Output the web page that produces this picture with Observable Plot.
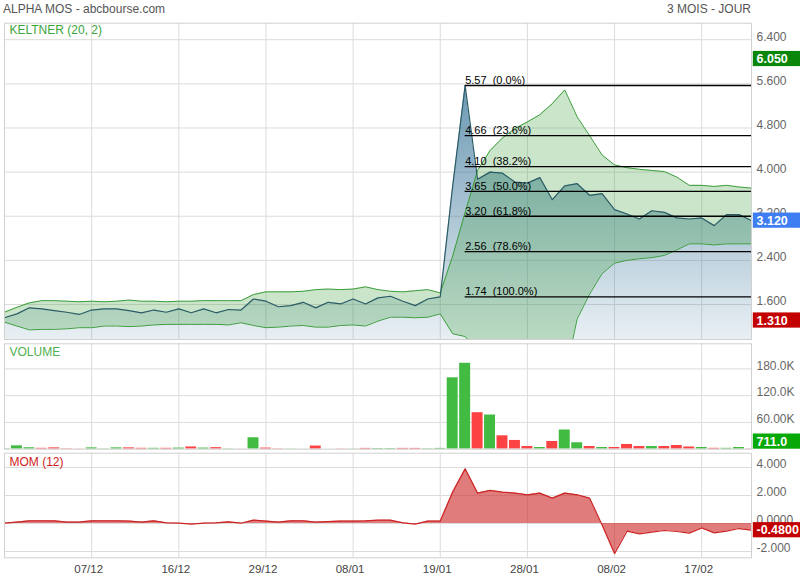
<!DOCTYPE html>
<html><head><meta charset="utf-8">
<script src="https://cdn.jsdelivr.net/npm/d3@7"></script>
<script src="https://cdn.jsdelivr.net/npm/@observablehq/plot@0.6"></script>
<style>
body{margin:0;background:#fff;font-family:"Liberation Sans",Arial,sans-serif;}
#wrap{position:relative;width:800px;height:580px;overflow:hidden;background:#fff;}
#wrap svg{position:absolute;left:0;}
.lbl{position:absolute;font-size:12px;white-space:pre;line-height:12px;color:#555;}
</style></head><body><div id="wrap"></div>
<script>
// ---------- data ----------
const titleText = "ALPHA MOS - abcbourse.com";
const periodText = "3 MOIS - JOUR";
const xTickIdx = [7, 14, 21, 28, 35, 42, 49, 56];
const xTickLabels = ["07/12", "16/12", "29/12", "08/01", "19/01", "28/01", "08/02", "17/02"];

const closeP = [1.36,1.43,1.54,1.52,1.49,1.46,1.42,1.50,1.52,1.52,
  1.49,1.45,1.50,1.46,1.52,1.45,1.52,1.45,1.51,1.50,
  1.70,1.66,1.56,1.58,1.64,1.54,1.64,1.61,1.70,1.61,
  1.72,1.75,1.66,1.58,1.70,1.74,3.75,5.57,3.87,4.00,
  3.98,3.82,3.80,3.90,3.50,3.75,3.79,3.58,3.61,3.32,
  3.24,3.15,3.30,3.27,3.17,3.15,3.17,3.03,3.23,3.23,3.12];
const upperBand = [1.46,1.55,1.63,1.67,1.67,1.66,1.65,1.66,1.65,1.66,
  1.68,1.66,1.66,1.65,1.66,1.66,1.67,1.67,1.67,1.67,
  1.78,1.83,1.83,1.83,1.84,1.87,1.88,1.87,1.88,1.92,
  1.87,1.84,1.83,1.85,1.87,1.81,2.48,3.27,4.03,4.39,
  4.62,4.79,4.91,5.04,5.24,5.49,5.00,4.66,4.31,4.13,
  4.08,4.05,4.03,4.01,3.91,3.76,3.76,3.74,3.76,3.73,3.71];
const lowerBand = [1.28,1.21,1.14,1.15,1.15,1.16,1.18,1.18,1.21,1.21,
  1.20,1.21,1.23,1.24,1.24,1.24,1.24,1.24,1.23,1.27,
  1.22,1.18,1.19,1.21,1.22,1.19,1.19,1.22,1.23,1.21,
  1.30,1.37,1.37,1.36,1.37,1.43,1.07,1.02,0.75,0.50,
  0.35,0.25,0.20,0.20,0.22,0.30,1.34,1.79,2.16,2.35,
  2.40,2.43,2.45,2.49,2.59,2.70,2.70,2.68,2.70,2.70,2.70];
const volume = [1000,7500,3200,2000,3000,1000,500,3000,800,3000,
  3000,2000,2000,2000,2500,5000,2500,3500,800,300,
  25600,2500,800,600,300,7000,200,600,600,1800,
  1500,1500,1800,1800,1000,1800,160000,192600,81800,76600,
  30000,19600,6000,3800,17300,43000,14400,6000,3800,3800,
  10600,6000,6000,6000,8300,5000,3800,2000,2000,3800,711];
const momentum = [0.02,0.10,0.19,0.19,0.19,0.10,0.10,0.19,0.19,0.19,
  0.17,0.10,0.19,0.05,0.02,-0.05,0.02,0.05,0.12,0.02,
  0.24,0.17,0.10,0.19,0.19,0.10,0.14,0.17,0.17,0.19,
  0.24,0.24,0.05,-0.05,0.17,0.17,2.25,3.90,2.17,2.36,
  2.24,2.17,2.05,2.17,1.81,2.17,2.05,1.81,-0.10,-2.15,
  -0.55,-0.74,-0.62,-0.50,-0.57,-0.69,-0.31,-0.67,-0.55,-0.36,-0.48];

const fibValues = [5.57, 4.66, 4.10, 3.65, 3.20, 2.56, 1.74];
const fibPercents = ["0.0%", "23.6%", "38.2%", "50.0%", "61.8%", "78.6%", "100.0%"];

const priceTicks = [6.4, 5.6, 4.8, 4.0, 3.2, 2.4, 1.6];
const volTicks = [60000, 120000, 180000];
const volTickLabels = ["60.00K", "120.0K", "180.0K"];
const momTicks = [4, 2, 0, -2];
const momTickLabels = ["4.000", "2.000", "0.0000", "-2.000"];

const priceHigh = 6.05, priceLow = 1.31;

// ---------- styling ----------
const FONT = '"Liberation Sans", Arial, sans-serif';
const GRID = "#dcdcdc", FRAME = "#d0d0d0";
const CLOSE = "#2b5c66", BAND = "#3d9e3d";
const UP = "#42bb42", DOWN = "#fb4343";
const MOMC = "#cc2424";

const N = closeP.length;
const rows = closeP.map((c, i) => ({
  i, close: c, up: upperBand[i], lo: lowerBand[i], vol: volume[i], mom: momentum[i],
  dir: (i === 0 || c >= closeP[i - 1]) ? "up" : "down"
}));
const peakIdx = closeP.indexOf(d3.max(closeP));
const fibRows = fibValues.map((v, k) => ({v, label: v.toFixed(2) + "\u00a0\u00a0(" + fibPercents[k] + ")"}));

const priceDomain = [0.966, 6.699];
const volDomain = [0, 236200];
const momDomain = [-2.45, 5.02];

const common = {width: 800, marginLeft: 4, marginRight: 49, x: {domain: [0, N - 1], axis: null},
  style: {fontFamily: FONT, background: "transparent", overflow: "visible"}};

function yLabels(ticks, labels) {
  return Plot.text(ticks, {y: d => d, text: (d, i) => labels[i], frameAnchor: "right", textAnchor: "start",
    dx: 5, dy: -3, fill: "#666", fontSize: 12});
}
function panelLabel(t, color, dy) {
  return Plot.text([t], {frameAnchor: "top-left", textAnchor: "start", lineAnchor: "top", dx: 5, dy, fill: color, fontSize: 12, text: d => d});
}

const wrap = document.getElementById("wrap");

// ---------- price panel ----------
const price = Plot.plot({
  ...common, height: 341, marginTop: 22.7, marginBottom: 2,
  y: {domain: priceDomain, axis: null},
  marks: [
    Plot.ruleY(priceTicks, {stroke: GRID}),
    Plot.ruleX(xTickIdx, {stroke: GRID}),
    Plot.areaY(rows, {x: "i", y1: () => priceDomain[0], y2: "close", fill: "url(#closeGrad)", clip: true}),
    Plot.areaY(rows, {x: "i", y1: "lo", y2: "up", fill: "rgb(60,160,60)", fillOpacity: 0.27, clip: true}),
    Plot.lineY(rows, {x: "i", y: "up", stroke: BAND, strokeWidth: 1, clip: true}),
    Plot.lineY(rows, {x: "i", y: "lo", stroke: BAND, strokeWidth: 1, clip: true}),
    Plot.lineY(rows, {x: "i", y: "close", stroke: CLOSE, strokeWidth: 1.2, clip: true}),
    Plot.ruleY(fibRows, {y: "v", x1: () => peakIdx, x2: () => N - 1, stroke: "#000", strokeWidth: 1.3}),
    Plot.text(fibRows, {x: () => peakIdx, y: "v", text: "label", textAnchor: "start", lineAnchor: "bottom", dy: -1.5, fontSize: 11, fill: "#000"}),
    Plot.frame({stroke: FRAME}),
    yLabels(priceTicks, priceTicks.map(d => d.toFixed(3))),
    panelLabel("KELTNER (20, 2)", "#3aa63a", 2.3)
  ]
});
price.style.top = "0px";
wrap.appendChild(price);

// gradient for the close mountain
const defs = d3.select(price).insert("defs", ":first-child");
const grad = defs.append("linearGradient").attr("id", "closeGrad")
  .attr("x1", 0).attr("y1", 0).attr("x2", 0).attr("y2", 1);
grad.append("stop").attr("offset", "0%").attr("stop-color", "rgb(50,112,150)").attr("stop-opacity", 0.72);
grad.append("stop").attr("offset", "100%").attr("stop-color", "rgb(50,112,150)").attr("stop-opacity", 0.11);

// ---------- volume panel ----------
const vol = Plot.plot({
  ...common, height: 110, marginTop: 2.3, marginBottom: 2.3,
  y: {domain: volDomain, axis: null},
  marks: [
    Plot.ruleY(volTicks, {stroke: GRID}),
    Plot.ruleX(xTickIdx, {stroke: GRID}),
    Plot.rectY(rows, {x1: d => d.i - 0.44, x2: d => d.i + 0.44, y: "vol", fill: d => d.dir === "up" ? UP : DOWN, clip: true}),
    Plot.frame({stroke: FRAME}),
    yLabels(volTicks, volTickLabels),
    panelLabel("VOLUME", "#4fb04f", 3.4)
  ]
});
vol.style.top = "341px";
wrap.appendChild(vol);

// ---------- momentum panel ----------
const momP = Plot.plot({
  ...common, height: 129, marginTop: 1.7, marginBottom: 22.7,
  y: {domain: momDomain, axis: null},
  marks: [
    Plot.ruleY(momTicks, {stroke: GRID}),
    Plot.ruleX(xTickIdx, {stroke: GRID}),
    Plot.areaY(rows, {x: "i", y1: () => 0, y2: "mom", fill: MOMC, fillOpacity: 0.6, clip: true}),
    Plot.lineY(rows, {x: "i", y: "mom", stroke: MOMC, strokeWidth: 1.2, clip: true}),
    Plot.frame({stroke: FRAME}),
    yLabels(momTicks, momTickLabels),
    Plot.text(xTickIdx, {x: d => d, text: (d, i) => xTickLabels[i], frameAnchor: "bottom", lineAnchor: "top",
      dy: 7.5, dx: -3, fill: "#444", fontSize: 11.5}),
    panelLabel("MOM (12)", "#d01c1c", 4.5)
  ]
});
momP.style.top = "451px";
wrap.appendChild(momP);

// ---------- value badges ----------
function badge(svg, value, text, color) {
  const y = svg.scale("y");
  const cy = y.apply(value);
  const bottom = d3.max(y.range), top = d3.min(y.range);
  let ry = cy - 7.6;
  if (ry + 15.2 > bottom) ry = bottom - 15.2;
  if (ry < top) ry = top;
  const g = d3.select(svg).append("g");
  g.append("rect").attr("x", 752.8).attr("y", ry).attr("width", 48).attr("height", 15.2).attr("fill", color);
  g.append("text").attr("x", 756.5).attr("y", ry + 7.6).attr("dy", "0.36em").attr("text-anchor", "start")
    .attr("fill", "#fff").attr("font-size", 12.5).attr("font-weight", "bold").attr("font-family", FONT).text(text);
}
badge(price, priceHigh, priceHigh.toFixed(3), "#0a870a");
badge(price, closeP[N - 1], closeP[N - 1].toFixed(3), "#3f7ef2");
badge(price, priceLow, priceLow.toFixed(3), "#c30000");
badge(vol, volume[N - 1], volume[N - 1].toFixed(1), "#07a907");
badge(momP, momentum[N - 1], momentum[N - 1].toFixed(4), "#c30000");

// ---------- header ----------
const t1 = document.createElement("div");
t1.className = "lbl"; t1.style.left = "3px"; t1.style.top = "3px"; t1.textContent = titleText;
wrap.appendChild(t1);
const t2 = document.createElement("div");
t2.className = "lbl"; t2.style.right = "49px"; t2.style.top = "3px"; t2.textContent = periodText;
wrap.appendChild(t2);
</script>
</body></html>
